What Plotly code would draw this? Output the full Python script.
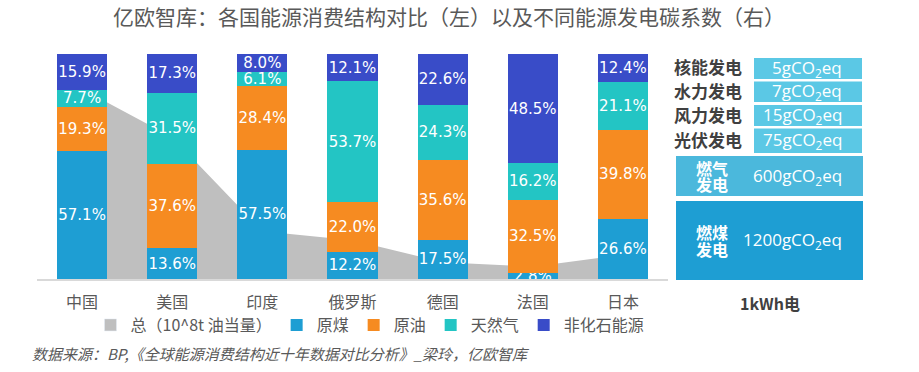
import plotly.graph_objects as go

# ---------------- data ----------------
countries = ["中国", "美国", "印度", "俄罗斯", "德国", "法国", "日本"]
total_consumption = [33.8, 25.2, 8.5, 6.9, 3.0, 2.2, 4.3]   # 10^8 t oil equivalent (estimated)
coal = [57.1, 13.6, 57.5, 12.2, 17.5, 2.8, 26.6]
oil = [19.3, 37.6, 28.4, 22.0, 35.6, 32.5, 39.8]
gas = [7.7, 31.5, 6.1, 53.7, 24.3, 16.2, 21.1]
non_fossil = [15.9, 17.3, 8.0, 12.1, 22.6, 48.5, 12.4]

power_sources = ["核能发电", "水力发电", "风力发电", "光伏发电", "燃气发电", "燃煤发电"]
carbon_factor = [5, 7, 15, 75, 600, 1200]   # gCO2eq per kWh

# ---------------- styles ----------------
W, H = 919, 372
PL, PT, PR, PB = 37, 54, 668, 279   # plot area in page pixels
ML, MT = PL, PT
MR, MB = W - PR, H - PB
PW, PH = PR - PL, PB - PT
GREY_TXT = "#595959"
DARK_TXT = "#404040"
C_COAL, C_OIL, C_GAS, C_NF = "#1E9ED3", "#F68B21", "#23C5C4", "#394CC8"
C_AREA = "#BFBFBF"


def px(x):
    return (x - PL) / PW


def py(y):
    return (PB - y) / PH


fig = go.Figure()

# grey area: total consumption (primary y axis, behind bars)
fig.add_trace(go.Scatter(
    x=countries, y=total_consumption, mode="lines", fill="tozeroy",
    line=dict(color=C_AREA, width=0), fillcolor=C_AREA,
    name="总（10^8t 油当量）", showlegend=False, legendgroup="total",
    hoverinfo="x+y", yaxis="y"))
# legend entry for the area (square symbol)
fig.add_trace(go.Bar(
    x=[None], y=[None], name="总（10^8t 油当量）", marker_color=C_AREA,
    legendgroup="total", showlegend=True, yaxis="y"))

series = [("原煤", coal, C_COAL), ("原油", oil, C_OIL),
          ("天然气", gas, C_GAS), ("非化石能源", non_fossil, C_NF)]
for name, vals, col in series:
    fig.add_trace(go.Bar(
        x=countries, y=vals, name=name, marker=dict(color=col, line=dict(width=0)),
        text=[f"{v:.1f}%" for v in vals], textposition="inside",
        insidetextanchor="middle", textangle=0, constraintext="none",
        textfont=dict(family="DejaVu Sans", size=15, color="white"),
        cliponaxis=True, yaxis="y2"))

shapes = []
annotations = []

# right panel: emission factors
small_boxes = [(58, 79), (81.5, 102), (105, 126), (128.5, 153)]
label_y = [66.5, 90, 114, 139.5]
for i in range(4):
    y0, y1 = small_boxes[i]
    shapes.append(dict(type="rect", xref="paper", yref="paper",
                       x0=px(754), x1=px(862), y0=py(y1), y1=py(y0),
                       fillcolor="#5BC8E5", line=dict(width=0), layer="above"))
    annotations.append(dict(xref="paper", yref="paper", x=px(708), y=py(label_y[i]),
                            text=f"<b>{power_sources[i]}</b>", showarrow=False,
                            xanchor="center", yanchor="middle",
                            font=dict(family="Noto Sans CJK SC", size=17, color=DARK_TXT)))
    annotations.append(dict(xref="paper", yref="paper", x=px(844), y=py((y0 + y1) / 2),
                            text=f"{carbon_factor[i]}gCO<sub>2</sub>eq", showarrow=False,
                            xanchor="right", yanchor="middle",
                            font=dict(family="Open Sans", size=17, color="white")))

big_boxes = [(156, 196, "#4BB8DC", (168, 183.5)), (201, 280, "#1E9ED3", (232, 248.5))]
for j, (y0, y1, col, ly) in enumerate(big_boxes):
    k = 4 + j
    shapes.append(dict(type="rect", xref="paper", yref="paper",
                       x0=px(676), x1=px(863), y0=py(y1), y1=py(y0),
                       fillcolor=col, line=dict(width=0), layer="above"))
    name = power_sources[k]
    for part, yy in zip([name[:2], name[2:]], ly):
        annotations.append(dict(xref="paper", yref="paper", x=px(712), y=py(yy),
                                text=f"<b>{part}</b>", showarrow=False,
                                xanchor="center", yanchor="middle",
                                font=dict(family="Noto Sans CJK SC", size=16, color="white")))
    annotations.append(dict(xref="paper", yref="paper", x=px(844), y=py((y0 + y1) / 2),
                            text=f"{carbon_factor[k]}gCO<sub>2</sub>eq", showarrow=False,
                            xanchor="right", yanchor="middle",
                            font=dict(family="Open Sans", size=17, color="white")))

annotations.append(dict(xref="paper", yref="paper", x=px(770), y=py(303),
                        text="<b>1kWh电</b>", showarrow=False,
                        xanchor="center", yanchor="middle",
                        font=dict(family="Noto Sans CJK SC", size=16, color=DARK_TXT)))

annotations.append(dict(xref="paper", yref="paper", x=px(30), y=py(353),
                        text="<i>数据来源：BP,《全球能源消费结构近十年数据对比分析》_梁玲，亿欧智库</i>",
                        showarrow=False, xanchor="left", yanchor="middle",
                        font=dict(family="Noto Sans CJK SC", size=15, color=GREY_TXT)))

fig.update_layout(
    width=W, height=H, autosize=False,
    margin=dict(l=ML, r=MR, t=MT, b=MB, pad=0, autoexpand=False),
    paper_bgcolor="white", plot_bgcolor="white",
    barmode="stack", bargap=0.445,
    title=dict(text="亿欧智库：各国能源消费结构对比（左）以及不同能源发电碳系数（右）",
               x=449 / W, xanchor="center", y=1 - 17.5 / H, yanchor="middle",
               font=dict(family="Noto Sans CJK SC", size=21, color=GREY_TXT)),
    xaxis=dict(type="category", categoryorder="array", categoryarray=countries,
               range=[-0.5, 6.5], showgrid=False, zeroline=False,
               showline=True, linecolor="#D9D9D9", linewidth=2, ticks="",
               ticklabelstandoff=8,
               tickfont=dict(family="Noto Sans CJK SC", size=16, color=GREY_TXT)),
    yaxis=dict(range=[0, 40], visible=False, showgrid=False, zeroline=False),
    yaxis2=dict(range=[0, 100], overlaying="y", visible=False, showgrid=False, zeroline=False),
    legend=dict(orientation="h", x=px(370), xanchor="center", y=py(325), yanchor="middle",
                font=dict(family="Noto Sans CJK SC", size=16, color=GREY_TXT),
                itemwidth=30, bgcolor="rgba(0,0,0,0)"),
    shapes=shapes, annotations=annotations,
    showlegend=True,
)

fig.write_html("out.html", config={"displayModeBar": False},
               post_script="document.body.style.margin='0px';")
